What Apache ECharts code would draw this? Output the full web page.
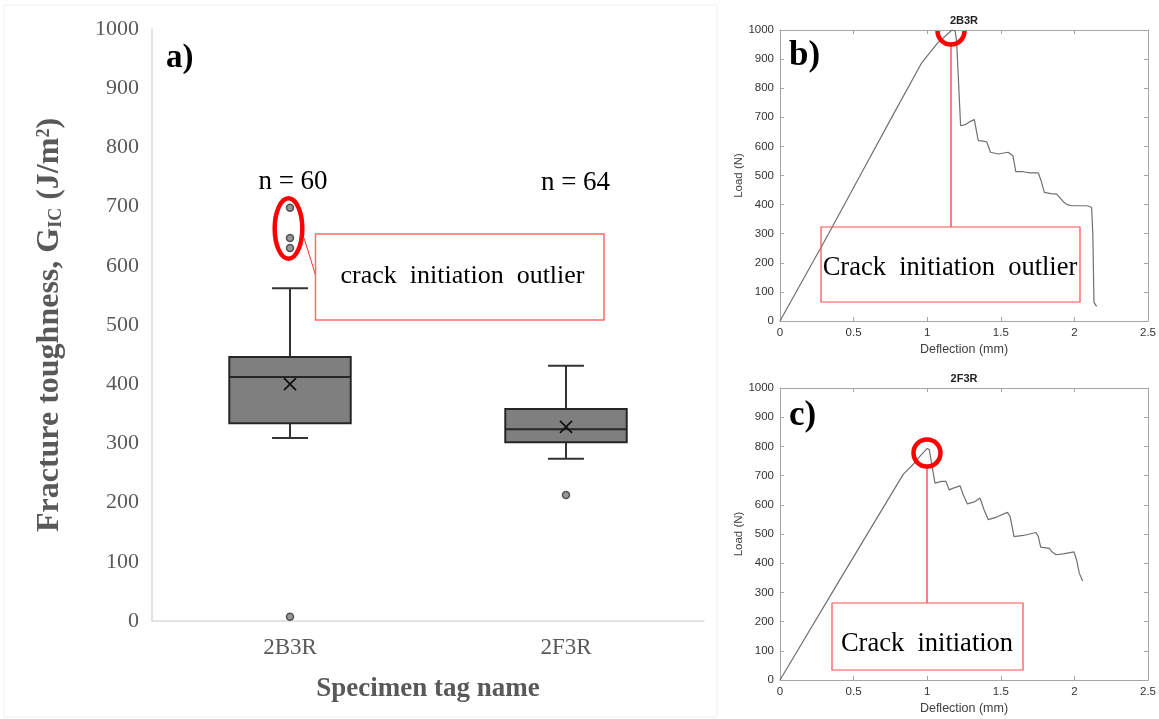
<!DOCTYPE html>
<html>
<head>
<meta charset="utf-8">
<script src="https://cdn.jsdelivr.net/npm/echarts@6/dist/echarts.min.js"></script>
<style>html,body{margin:0;padding:0;background:#fff;}#main{width:1159px;height:719px;}</style>
</head>
<body>
<div id="main"></div>
<script>
// ---- Panel a) box plot data ----
const boxCategories = ['2B3R', '2F3R'];
const boxMin    = [309, 274];
const boxQ1     = [334, 302];
const boxMedian = [412, 324];
const boxQ3     = [446, 358];
const boxMax    = [562, 431];
const boxMean   = [400, 328];
const outlierCategory = [0, 0, 0, 0, 1];
const outlierValue    = [698, 647, 630, 7, 213];
const sampleCounts = [60, 64];
const toughnessTicks = [0, 100, 200, 300, 400, 500, 600, 700, 800, 900, 1000];

// ---- Panel b) 2B3R load-deflection ----
const b_deflection = [0, 0.33, 0.55, 0.77, 0.96, 1.07, 1.168, 1.19, 1.2, 1.227, 1.26, 1.29, 1.32, 1.347, 1.38, 1.404, 1.43, 1.483, 1.55, 1.582, 1.602, 1.654, 1.698, 1.755, 1.775, 1.796, 1.84, 1.88, 1.925, 1.95, 1.982, 2.05, 2.084, 2.117, 2.125, 2.133, 2.151];
const b_load       = [0, 300, 505, 710, 885, 955, 1000, 997, 960, 671, 675, 685, 692, 620, 618, 616, 580, 574, 580, 568, 513, 513, 509, 509, 480, 442, 438, 436, 410, 400, 396, 396, 396, 391, 300, 64, 50];

// ---- Panel c) 2F3R load-deflection ----
const c_deflection = [0, 0.42, 0.838, 0.906, 0.95, 1.0, 1.014, 1.053, 1.098, 1.127, 1.15, 1.177, 1.223, 1.245, 1.273, 1.325, 1.359, 1.386, 1.415, 1.472, 1.545, 1.563, 1.59, 1.653, 1.739, 1.755, 1.771, 1.83, 1.845, 1.875, 1.925, 1.997, 2.015, 2.033, 2.056];
const c_load       = [0, 355, 705, 739, 766, 793, 789, 674, 680, 680, 651, 657, 665, 634, 603, 611, 623, 583, 549, 558, 574, 560, 491, 495, 505, 491, 455, 451, 440, 429, 432, 439, 411, 366, 339];

const deflectionTicks = [0, 0.5, 1, 1.5, 2, 2.5];
const loadTicks = [0, 100, 200, 300, 400, 500, 600, 700, 800, 900, 1000];

const boxData = boxCategories.map((c, i) => [i, boxMin[i], boxQ1[i], boxMedian[i], boxQ3[i], boxMax[i], boxMean[i]]);
const outlierData = outlierValue.map((v, i) => [outlierCategory[i], v]);
const bLine = b_deflection.map((d, i) => [d, b_load[i]]);
const cLine = c_deflection.map((d, i) => [d, c_load[i]]);

const serif = '"Liberation Serif", "Times New Roman", serif';
const sans = '"Liberation Sans", Arial, sans-serif';
const grayA = '#595959';
const plain = v => String(v);

function renderBox(params, api) {
  const i = api.value(0);
  const pMin = api.coord([i, api.value(1)]);
  const pQ1 = api.coord([i, api.value(2)]);
  const pMed = api.coord([i, api.value(3)]);
  const pQ3 = api.coord([i, api.value(4)]);
  const pMax = api.coord([i, api.value(5)]);
  const pMean = api.coord([i, api.value(6)]);
  const band = api.size([1, 0])[0];
  const bw = band * 0.44, cw = band * 0.13;
  const x = pMed[0];
  const ls = { stroke: '#333333', lineWidth: 2 };
  const m = 6;
  return {
    type: 'group',
    children: [
      { type: 'line', shape: { x1: x, y1: pQ3[1], x2: x, y2: pMax[1] }, style: ls },
      { type: 'line', shape: { x1: x - cw / 2, y1: pMax[1], x2: x + cw / 2, y2: pMax[1] }, style: ls },
      { type: 'line', shape: { x1: x, y1: pQ1[1], x2: x, y2: pMin[1] }, style: ls },
      { type: 'line', shape: { x1: x - cw / 2, y1: pMin[1], x2: x + cw / 2, y2: pMin[1] }, style: ls },
      { type: 'rect', shape: { x: x - bw / 2, y: pQ3[1], width: bw, height: pQ1[1] - pQ3[1] }, style: { fill: '#7f7f7f', stroke: '#262626', lineWidth: 2 } },
      { type: 'line', shape: { x1: x - bw / 2, y1: pMed[1], x2: x + bw / 2, y2: pMed[1] }, style: { stroke: '#262626', lineWidth: 2 } },
      { type: 'line', shape: { x1: pMean[0] - m, y1: pMean[1] - m, x2: pMean[0] + m, y2: pMean[1] + m }, style: { stroke: '#111', lineWidth: 1.8 } },
      { type: 'line', shape: { x1: pMean[0] - m, y1: pMean[1] + m, x2: pMean[0] + m, y2: pMean[1] - m }, style: { stroke: '#111', lineWidth: 1.8 } }
    ]
  };
}

function loadAxis(grid, pos, showLabel) {
  return {
    type: 'value', gridIndex: grid, position: pos, min: 0, max: 1000, interval: 100,
    axisLine: { show: true, onZero: false, lineStyle: { color: '#a6a6a6', width: 1 } },
    axisTick: { show: true, inside: true, length: 4, lineStyle: { color: '#a6a6a6' } },
    axisLabel: { show: showLabel, fontFamily: sans, fontSize: 11.5, color: '#333333', margin: 6, formatter: plain },
    splitLine: { show: false },
    name: showLabel ? 'Load (N)' : '', nameLocation: 'middle', nameGap: 34, nameRotate: 90,
    nameTextStyle: { fontFamily: sans, fontSize: 11.5, color: '#404040' }
  };
}
function deflAxis(grid, pos, showLabel) {
  return {
    type: 'value', gridIndex: grid, position: pos, min: 0, max: 2.5, interval: 0.5,
    axisLine: { show: true, onZero: false, lineStyle: { color: '#a6a6a6', width: 1 } },
    axisTick: { show: true, inside: true, length: 4, lineStyle: { color: '#a6a6a6' } },
    axisLabel: { show: showLabel, fontFamily: sans, fontSize: 11.5, color: '#333333', margin: 6, formatter: plain },
    splitLine: { show: false },
    name: showLabel ? 'Deflection (mm)' : '', nameLocation: 'middle', nameGap: 22,
    nameTextStyle: { fontFamily: sans, fontSize: 12.5, color: '#404040' }
  };
}

const chart = echarts.init(document.getElementById('main'), null, { renderer: 'canvas' });
chart.setOption({
  backgroundColor: '#ffffff',
  animation: false,
  grid: [
    { left: 152, top: 29, width: 552, height: 592 },
    { left: 780, top: 30, width: 368, height: 291 },
    { left: 780, top: 388, width: 368, height: 292 }
  ],
  xAxis: [
    {
      type: 'category', gridIndex: 0, data: boxCategories, boundaryGap: true,
      axisLine: { show: true, lineStyle: { color: '#d9d9d9', width: 1.5 } },
      axisTick: { show: false },
      axisLabel: { fontFamily: serif, fontSize: 23, color: grayA, margin: 15 },
      name: 'Specimen tag name', nameLocation: 'middle', nameGap: 55,
      nameTextStyle: { fontFamily: serif, fontSize: 27, fontWeight: 'bold', color: grayA }
    },
    deflAxis(1, 'bottom', true),
    deflAxis(1, 'top', false),
    deflAxis(2, 'bottom', true),
    deflAxis(2, 'top', false)
  ],
  yAxis: [
    {
      type: 'value', gridIndex: 0, min: 0, max: 1000, interval: 100,
      axisLine: { show: true, lineStyle: { color: '#d9d9d9', width: 1.5 } },
      axisTick: { show: false },
      splitLine: { show: false },
      axisLabel: { fontFamily: serif, fontSize: 22, color: grayA, margin: 13, formatter: plain },
      name: '{b|Fracture toughness, G}{sub|IC}{b| (J/m}{sup|2}{b|)}',
      nameLocation: 'middle', nameRotate: 90, nameGap: 84,
      nameTextStyle: {
        color: grayA,
        rich: {
          b: { fontFamily: serif, fontSize: 32, fontWeight: 'bold', color: grayA, lineHeight: 36, verticalAlign: 'middle' },
          sub: { fontFamily: serif, fontSize: 18, fontWeight: 'bold', color: grayA, lineHeight: 36, verticalAlign: 'bottom', padding: [0, 0, 3, 0] },
          sup: { fontFamily: serif, fontSize: 18, fontWeight: 'bold', color: grayA, lineHeight: 36, verticalAlign: 'top', padding: [3, 0, 0, 0] }
        }
      }
    },
    loadAxis(1, 'left', true),
    loadAxis(1, 'right', false),
    loadAxis(2, 'left', true),
    loadAxis(2, 'right', false)
  ],
  series: [
    {
      type: 'custom', xAxisIndex: 0, yAxisIndex: 0, data: boxData,
      encode: { x: 0, y: [1, 2, 3, 4, 5, 6] }, renderItem: renderBox, z: 2
    },
    {
      type: 'scatter', xAxisIndex: 0, yAxisIndex: 0, data: outlierData,
      symbol: 'circle', symbolSize: 7,
      itemStyle: { color: '#808080', borderColor: '#333333', borderWidth: 1.5 }, z: 3
    },
    {
      type: 'line', xAxisIndex: 1, yAxisIndex: 1, data: bLine, showSymbol: false,
      lineStyle: { color: '#707070', width: 1.2 }, clip: true
    },
    {
      type: 'line', xAxisIndex: 3, yAxisIndex: 3, data: cLine, showSymbol: false,
      lineStyle: { color: '#707070', width: 1.2 }, clip: true
    }
  ],
  graphic: [
    // panel a frame
    { type: 'rect', shape: { x: 4, y: 5, width: 713, height: 712 }, style: { fill: 'none', stroke: '#efefef', lineWidth: 1 }, z: 0, silent: true },
    { type: 'text', x: 166, y: 58, style: { text: 'a)', font: 'bold 33px ' + serif, fill: '#000', textVerticalAlign: 'middle' } },
    { type: 'text', x: 293, y: 182, style: { text: 'n = ' + sampleCounts[0], font: '27px ' + serif, fill: '#000', textAlign: 'center', textVerticalAlign: 'middle' } },
    { type: 'text', x: 575.5, y: 183, style: { text: 'n = ' + sampleCounts[1], font: '27px ' + serif, fill: '#000', textAlign: 'center', textVerticalAlign: 'middle' } },
    { type: 'ellipse', shape: { cx: 288.5, cy: 228.5, rx: 13.8, ry: 30.3 }, style: { fill: 'none', stroke: '#ff0000', lineWidth: 4.5 }, z: 10 },
    { type: 'line', shape: { x1: 304, y1: 238, x2: 315.5, y2: 275 }, style: { stroke: '#ff3333', lineWidth: 1 }, z: 10 },
    { type: 'rect', shape: { x: 315.5, y: 234, width: 288.5, height: 86 }, style: { fill: '#ffffff', stroke: '#ff6b6b', lineWidth: 1.5 }, z: 10 },
    { type: 'text', x: 462.5, y: 276, style: { text: 'crack  initiation  outlier', font: '26px ' + serif, fill: '#000', textAlign: 'center', textVerticalAlign: 'middle' }, z: 11 },

    // panel b
    { type: 'text', x: 964, y: 21, style: { text: '2B3R', font: 'bold 11px ' + sans, fill: '#222', textAlign: 'center', textVerticalAlign: 'middle' }, z: 11 },
    { type: 'text', x: 789, y: 56, style: { text: 'b)', font: 'bold 35px ' + serif, fill: '#000', textVerticalAlign: 'middle' }, z: 11 },
    { type: 'arc', shape: { cx: 951, cy: 31, r: 13.5, startAngle: 0, endAngle: Math.PI, clockwise: true }, style: { fill: 'none', stroke: '#ff0000', lineWidth: 4.5 }, z: 10 },
    { type: 'line', shape: { x1: 951, y1: 46, x2: 951, y2: 227 }, style: { stroke: '#ff0000', lineWidth: 1 }, z: 10 },
    { type: 'rect', shape: { x: 821, y: 227, width: 259, height: 75 }, style: { fill: 'none', stroke: '#ff4d4d', lineWidth: 1.2 }, z: 10 },
    { type: 'text', x: 950, y: 268, style: { text: 'Crack  initiation  outlier', font: '26.5px ' + serif, fill: '#000', textAlign: 'center', textVerticalAlign: 'middle' }, z: 11 },

    // panel c
    { type: 'text', x: 964, y: 379, style: { text: '2F3R', font: 'bold 11px ' + sans, fill: '#222', textAlign: 'center', textVerticalAlign: 'middle' }, z: 11 },
    { type: 'text', x: 789, y: 416, style: { text: 'c)', font: 'bold 35px ' + serif, fill: '#000', textVerticalAlign: 'middle' }, z: 11 },
    { type: 'circle', shape: { cx: 927, cy: 453, r: 13.5 }, style: { fill: 'none', stroke: '#ff0000', lineWidth: 4.5 }, z: 10 },
    { type: 'line', shape: { x1: 927, y1: 468, x2: 927, y2: 603 }, style: { stroke: '#ff0000', lineWidth: 1 }, z: 10 },
    { type: 'rect', shape: { x: 832, y: 603, width: 191, height: 67 }, style: { fill: 'none', stroke: '#ff4d4d', lineWidth: 1.2 }, z: 10 },
    { type: 'text', x: 927, y: 644, style: { text: 'Crack  initiation', font: '26.5px ' + serif, fill: '#000', textAlign: 'center', textVerticalAlign: 'middle' }, z: 11 }
  ]
});
</script>
</body>
</html>
